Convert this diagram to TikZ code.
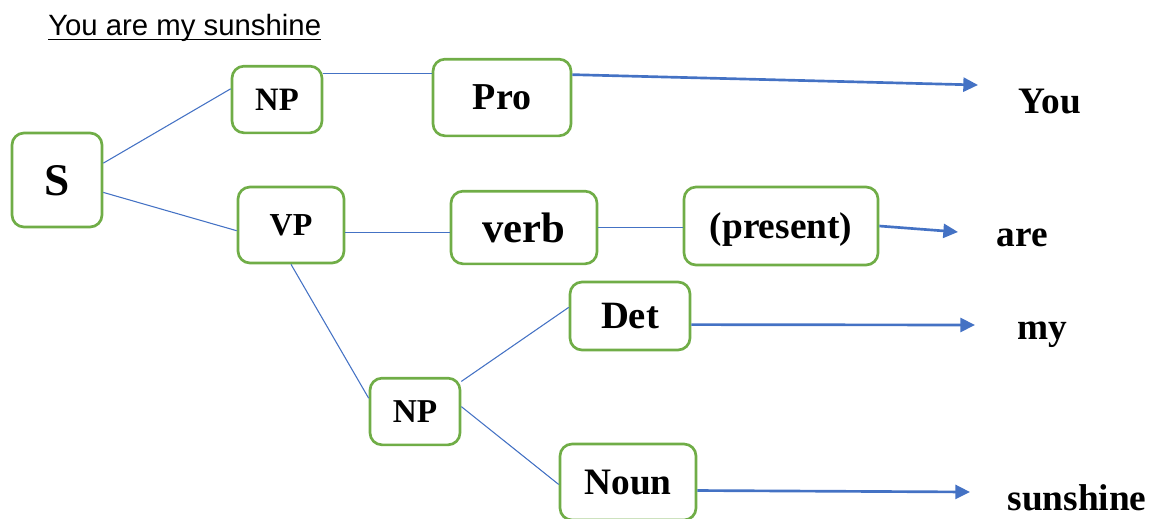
\documentclass[tikz,border=0pt]{standalone}
\usepackage{fontspec}
\setmainfont{Liberation Serif}
\newfontfamily\titlefont{Liberation Sans}
\usetikzlibrary{arrows.meta}
\definecolor{boxgreen}{HTML}{70AD47}
\definecolor{linkblue}{HTML}{4472C4}
\newcommand{\fs}[1]{\fontsize{#1}{#1}\selectfont}
\tikzset{
  cat/.style={draw=boxgreen, line width=2pt, rounded corners=9pt, inner sep=0pt, text depth=0pt},
  link/.style={draw=linkblue, line width=0.8pt},
  toword/.style={draw=linkblue, line width=2pt, -{Triangle[length=11pt,width=10.5pt]}},
  word/.style={anchor=base, inner sep=0pt, font=\fs{28}\bfseries}
}

\begin{document}
\begin{tikzpicture}[x=0.75pt,y=-0.75pt]
    \useasboundingbox (0,0) rectangle (1151,518);
    \node[anchor=base west,inner sep=0pt,font=\titlefont\fs{22}] (title) at (48,35) {You are my sunshine};
    \draw[line width=1.4pt] ([yshift=-3.4pt]title.base west) -- ([yshift=-3.4pt]title.base east);

    \node[cat,minimum width=67.5pt,minimum height=70.5pt,font=\fs{34}\bfseries] (S) at (57,180) {S};
    \node[cat,minimum width=67.5pt,minimum height=50pt,font=\fs{24.5}\bfseries] (np1) at (277,99.5) {NP};
    \node[cat,minimum width=103.5pt,minimum height=57.5pt,font=\fs{28.5}\bfseries] (pro) at (502,97.5) {Pro};
    \node[cat,minimum width=79.5pt,minimum height=57pt,font=\fs{24}\bfseries] (vp) at (291,225) {VP};
    \node[cat,minimum width=109.5pt,minimum height=54.5pt,font=\fs{32}\bfseries] (verb) at (524,227.5) {verb};
    \node[cat,minimum width=145.5pt,minimum height=58.5pt,font=\fs{28}\bfseries] (pres) at (781,226) {(present)};
    \node[cat,minimum width=90pt,minimum height=51pt,font=\fs{29}\bfseries] (det) at (630,316) {Det};
    \node[cat,minimum width=67.5pt,minimum height=50pt,font=\fs{25}\bfseries] (np2) at (415,411.5) {NP};
    \node[cat,minimum width=102pt,minimum height=57pt,font=\fs{28}\bfseries] (noun) at (628,482) {Noun};

    \node[word] (you) at (1050,113) {You};
    \node[word] (are) at (1022,246) {are};
    \node[word] (my) at (1042,339) {my};
    \node[word] (sunshine) at (1077,510) {sunshine};

    \coordinate (youtip) at (978,85);
    \coordinate (aretip) at (958,232);
    \coordinate (mytip) at (975,325);
    \coordinate (sunshinetip) at (970,492);

    \draw[link] (S.20) -- (np1.167);
    \draw[link] (S.345) -- (vp.186);
    \draw[link] (np1.29) -- (np1.29 -| pro.west);
    \draw[link] (vp.-8) -- (vp.-8 -| verb.west);
    \draw[link] (verb.east) -- (verb.east -| pres.west);
    \draw[link] (vp.south) -- (np2.164);
    \draw[link] (np2.33) -- (det.172);
    \draw[link] (np2.6) -- (noun.182);

    \draw[toword] (pro.18.6) -- (youtip);
    \draw[toword] (pres.east) -- (aretip);
    \draw[toword] (det.-8.4) -- (mytip);
    \draw[toword] (noun.-7.4) -- (sunshinetip);
\end{tikzpicture}
\end{document}
